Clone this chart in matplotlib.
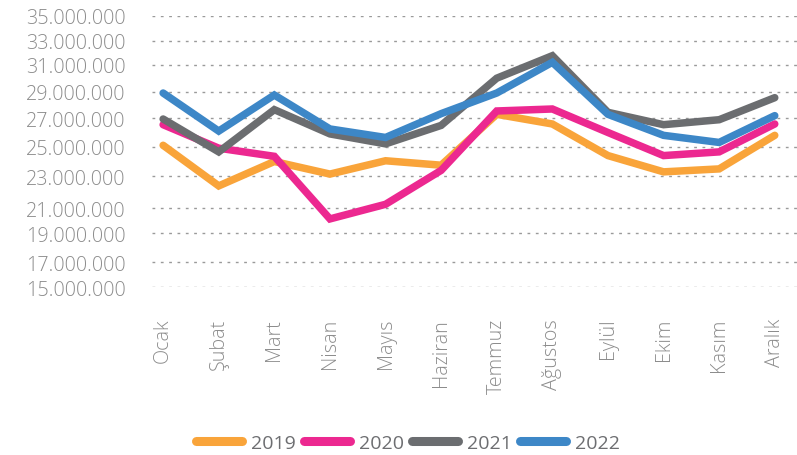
import numpy as np
import matplotlib
matplotlib.use("Agg")
import matplotlib.pyplot as plt
from matplotlib.ticker import FuncFormatter

months = ["Ocak", "Şubat", "Mart", "Nisan", "Mayıs", "Haziran", "Temmuz",
          "Ağustos", "Eylül", "Ekim", "Kasım", "Aralık"]
y2019 = [25.1, 22.4, 24.0, 23.15, 24.05, 23.75, 27.3, 26.6, 24.4, 23.3, 23.5, 25.8]
y2020 = [26.55, 24.9, 24.35, 20.15, 21.25, 23.4, 27.55, 27.7, 26.0, 24.4, 24.65, 26.6]
y2021 = [26.95, 24.65, 27.65, 25.9, 25.2, 26.5, 30.0, 31.75, 27.45, 26.55, 26.9, 28.55]
y2022 = [28.9, 26.1, 28.75, 26.25, 25.65, 27.35, 28.9, 31.2, 27.3, 25.8, 25.3, 27.2]
series = {"2019": y2019, "2020": y2020, "2021": y2021, "2022": y2022}
colors = {"2019": "#F9A43A", "2020": "#EC2890", "2021": "#6B6D70", "2022": "#3D87C7"}

yticks = np.arange(15, 36, 2) * 1e6
# the reference axis spaces its gridlines unevenly; reproduce that spacing
tick_pos = -np.array([288.3, 263.3, 234.3, 209.3, 177.3, 147.7, 119.3, 92.7, 65.7, 41.7, 16.7])

def fwd(v):
    return np.interp(v, yticks, tick_pos)

def inv(p):
    return np.interp(p, tick_pos, yticks)

W, H = 797, 456
fig = plt.figure(figsize=(W / 100, H / 100), dpi=100)
ax = fig.add_axes([152 / W, 1 - 288.3 / H, (797 - 152) / W, (288.3 - 16.7) / H])
ax.set_yscale("function", functions=(fwd, inv))

x = np.arange(len(months))
for name, vals in series.items():
    ax.plot(x, np.array(vals) * 1e6, color=colors[name], lw=5.4, label=name,
            solid_capstyle="round", solid_joinstyle="miter")

ax.set_ylim(15e6, 35e6)
ax.set_xlim(-0.2, 11.4)
ax.set_yticks(yticks)
ax.yaxis.set_major_formatter(FuncFormatter(lambda v, p: f"{int(round(v)):,}".replace(",", ".")))
ax.set_xticks(x)
ax.set_xticklabels(months, rotation=90, va="top", ha="center")
ax.grid(axis="y", color="#9a9a9a", linestyle=(0, (2, 4)), linewidth=1.0)
ax.set_axisbelow(True)
for s in ax.spines.values():
    s.set_visible(False)
ax.tick_params(axis="both", length=0, colors="#8a8a8a", labelsize=14.2)
ax.tick_params(axis="y", pad=19)
ax.tick_params(axis="x", pad=22)
for lab in ax.get_xticklabels() + ax.get_yticklabels():
    lab.set_fontfamily("Open Sans")
    lab.set_fontweight("light")
    lab.set_color("#8c8c8c")

leg = fig.legend(loc="center", bbox_to_anchor=(408 / W, 1 - 444 / H), ncol=4,
                 frameon=False, handlelength=2.35, handletextpad=0.45,
                 columnspacing=0.45,
                 prop={"family": "Open Sans", "size": 14})
for t in leg.get_texts():
    t.set_color("#6d6e71")
for line in leg.get_lines():
    line.set_linewidth(6.5)
    line.set_solid_capstyle("round")

fig.savefig("out.png", dpi=100)
